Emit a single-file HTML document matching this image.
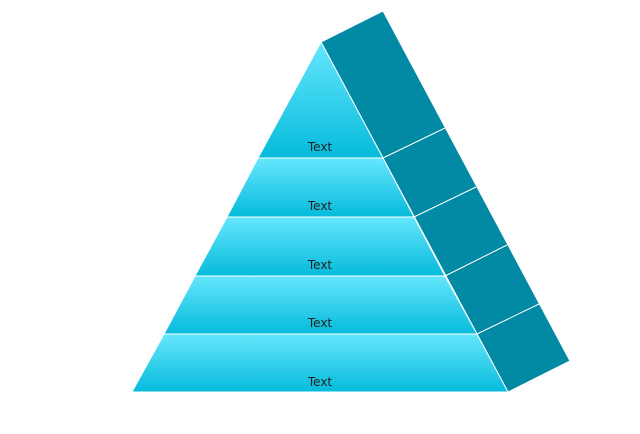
<!DOCTYPE html>
<html><head><meta charset="utf-8"><style>
html,body{margin:0;padding:0;background:#fff;width:640px;height:434px;overflow:hidden}
</style></head><body>
<svg width="640" height="434" viewBox="0 0 640 434" xmlns="http://www.w3.org/2000/svg">
<defs>
<linearGradient id="g" x1="0" y1="0" x2="0" y2="1">
<stop offset="0" stop-color="#66e6fe"/><stop offset="1" stop-color="#05bbdb"/>
</linearGradient>
</defs>
<g stroke="#ffffff" stroke-width="1" stroke-linejoin="round">
<polygon points="321,42 383,11 570,361 508,392 321,42" fill="#028aa4"/>
<line x1="383" y1="158" x2="445" y2="128"/>
<line x1="414" y1="217" x2="476" y2="187"/>
<line x1="445" y1="276" x2="507" y2="245"/>
<line x1="477" y1="334" x2="539" y2="304"/>
<polygon points="321,42 383,158 258,158" fill="url(#g)"/>
<polygon points="258,158 383,158 414,217 227,217" fill="url(#g)"/>
<polygon points="227,217 414,217 445,276 195,276" fill="url(#g)"/>
<polygon points="195,276 445,276 477,334 164,334" fill="url(#g)"/>
<polygon points="164,334 477,334 508,392 132,392" fill="url(#g)"/>
</g>
<g font-family="DejaVu Sans, Liberation Sans, sans-serif" font-size="12" fill="#222" text-anchor="middle">
<text x="320" y="151">Text</text>
<text x="320" y="210">Text</text>
<text x="320" y="269">Text</text>
<text x="320" y="327">Text</text>
<text x="320" y="386">Text</text>
</g>
</svg>
</body></html>
